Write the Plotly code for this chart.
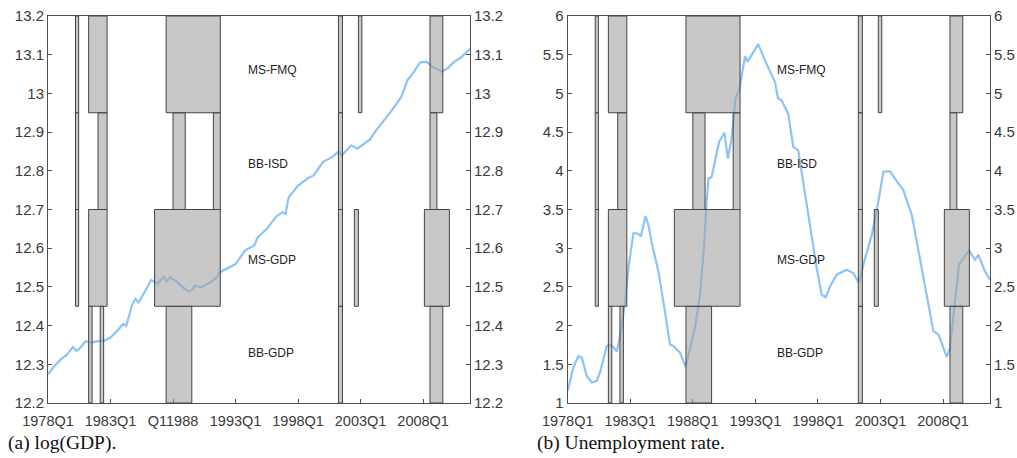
import plotly.graph_objects as go

# ---------------- data ----------------
tick_q = [0, 20, 40, 60, 80, 100, 120]
tick_labels_a = ["1978Q1", "1983Q1", "Q11988", "1993Q1", "1998Q1", "2003Q1", "2008Q1"]
tick_labels_b = ["1978Q1", "1983Q1", "1988Q1", "1993Q1", "1998Q1", "2003Q1", "2008Q1"]
q_range = [0, 135]  # quarters since 1978Q1

gdp_ticks = [12.2, 12.3, 12.4, 12.5, 12.6, 12.7, 12.8, 12.9, 13.0, 13.1, 13.2]
unemp_ticks = [1, 1.5, 2, 2.5, 3, 3.5, 4, 4.5, 5, 5.5, 6]

# log(GDP), x = quarters since 1978Q1
gdp_q = [0, 2, 4, 6, 8, 9, 10, 12, 14, 16, 18, 20, 22, 24, 25, 27, 28, 29, 31, 33,
         35, 37, 38, 39, 41, 43, 45, 46, 47, 49, 52, 54, 55, 57, 60, 63, 66, 67, 70, 73,
         75, 76, 77, 80, 83, 85, 88, 91, 93, 94, 97, 99, 103, 105, 107, 110, 113, 115,
         117, 119, 121, 123, 126, 128, 130, 132, 135]
gdp_val = [12.274, 12.295, 12.312, 12.325, 12.345, 12.335, 12.340, 12.359, 12.356, 12.360,
           12.361, 12.369, 12.385, 12.404, 12.399, 12.455, 12.469, 12.460, 12.488, 12.518,
           12.508, 12.526, 12.514, 12.525, 12.515, 12.500, 12.488, 12.492, 12.503, 12.499,
           12.512, 12.525, 12.538, 12.546, 12.559, 12.594, 12.607, 12.627, 12.650, 12.682,
           12.693, 12.689, 12.732, 12.762, 12.780, 12.788, 12.823, 12.836, 12.850, 12.840,
           12.866, 12.857, 12.881, 12.905, 12.926, 12.956, 12.991, 13.034, 13.055, 13.080,
           13.082, 13.069, 13.056, 13.066, 13.082, 13.092, 13.115]

# Unemployment rate
unemp_q = [0, 1.8, 3.4, 4.5, 6.1, 7.7, 9.3, 10.3, 12.5, 13.5, 14.6, 15.7, 16.7, 18.3,
           19.4, 21, 22.1, 23.4, 24.9, 25.8, 27, 29, 30.9, 32.7, 33.8, 35.9, 37.7, 39.1,
           40.9, 42.3, 43.7, 44.4, 45, 46, 48.4, 50.1, 51.2, 52.4, 53.7, 54.8, 56.7, 57.5,
           60.9, 63.1, 65, 66.3, 67.2, 68.4, 70.5, 72.1, 73.7, 75.9, 78, 79.6, 81.2, 82.5,
           83.9, 86, 89.2, 91.3, 93.1, 94.8, 97.2, 99.3, 100.9, 103, 104.6, 107.3, 110,
           112.1, 114.8, 116.9, 118.5, 121.2, 122.2, 123.8, 125.1, 127.6, 128.4, 130.2,
           131.3, 133.4, 135]
unemp_val = [1.157, 1.457, 1.607, 1.586, 1.35, 1.264, 1.286, 1.393, 1.736, 1.749, 1.723,
             1.663, 1.864, 2.272, 2.743, 3.193, 3.193, 3.159, 3.416, 3.30, 3.043, 2.70,
             2.229, 1.757, 1.736, 1.65, 1.466, 1.714, 2.015, 2.40, 3.086, 3.60, 3.90, 3.92,
             4.372, 4.492, 4.158, 4.415, 4.951, 5.037, 5.479, 5.41, 5.637, 5.423, 5.25,
             5.144, 4.94, 4.908, 4.737, 4.31, 4.265, 3.686, 3.172, 2.743, 2.40, 2.366,
             2.508, 2.658, 2.722, 2.679, 2.55, 2.829, 3.172, 3.60, 3.986, 3.994, 3.90,
             3.75, 3.429, 2.958, 2.40, 1.929, 1.886, 1.594, 1.714, 2.314, 2.786, 2.936,
             2.966, 2.85, 2.915, 2.70, 2.593]

# Regime rows (bottom to top) and their episodes (start, end in quarters since 1978Q1)
regime_names = ["BB-GDP", "MS-GDP", "BB-ISD", "MS-FMQ"]
bb_gdp_start = [13.0, 16.7, 37.8, 92.9, 122.2]
bb_gdp_end = [14.1, 17.8, 46.0, 94.2, 126.3]
ms_gdp_start = [8.8, 13.0, 34.1, 92.9, 98.0, 120.4]
ms_gdp_end = [9.8, 18.9, 55.1, 94.2, 99.3, 128.4]
bb_isd_start = [8.8, 16.0, 40.0, 52.9, 92.9, 122.2]
bb_isd_end = [9.8, 18.9, 43.9, 55.1, 94.2, 124.4]
ms_fmq_start = [8.8, 13.0, 37.8, 92.9, 99.3, 122.2]
ms_fmq_end = [9.8, 18.9, 55.1, 94.2, 100.4, 126.3]
regime_starts = [bb_gdp_start, ms_gdp_start, bb_isd_start, ms_fmq_start]
regime_ends = [bb_gdp_end, ms_gdp_end, bb_isd_end, ms_fmq_end]

captions = ["(a) log(GDP).", "(b) Unemployment rate."]

# ---------------- style ----------------
LINE_BLUE = "rgb(140,195,248)"
AXIS_COL = "#505050"
TEXT_COL = "#3a3a3a"
EDGE_COL = "#444444"
XTICK_FONT = dict(family="Liberation Sans, Arial, sans-serif", size=14.5, color=TEXT_COL)
YTICK_FONT = dict(family="Liberation Sans, Arial, sans-serif", size=15, color=TEXT_COL)
LABEL_FONT = dict(family="Liberation Sans, Arial, sans-serif", size=12, color="#222222")
CAP_FONT = dict(family="Liberation Serif, Times New Roman, serif", size=19.5, color="#111111")

fig = go.Figure()

# lines (plus invisible copies so the mirrored right axes are drawn)
fig.add_trace(go.Scatter(x=gdp_q, y=gdp_val, mode="lines", xaxis="x", yaxis="y",
                         line=dict(color=LINE_BLUE, width=2.2), showlegend=False, hoverinfo="skip"))
fig.add_trace(go.Scatter(x=gdp_q, y=gdp_val, mode="lines", xaxis="x", yaxis="y2",
                         opacity=0, showlegend=False, hoverinfo="skip"))
fig.add_trace(go.Scatter(x=unemp_q, y=unemp_val, mode="lines", xaxis="x2", yaxis="y3",
                         line=dict(color=LINE_BLUE, width=2.2), showlegend=False, hoverinfo="skip"))
fig.add_trace(go.Scatter(x=unemp_q, y=unemp_val, mode="lines", xaxis="x2", yaxis="y4",
                         opacity=0, showlegend=False, hoverinfo="skip"))

shapes = []
for xr, yr in [("x", "y domain"), ("x2", "y3 domain")]:
    for row, (starts, ends) in enumerate(zip(regime_starts, regime_ends)):
        for s, e in zip(starts, ends):
            y0, y1 = row / 4, (row + 1) / 4
            shapes.append(dict(type="rect", xref=xr, yref=yr, x0=s, x1=e, y0=y0, y1=y1,
                               fillcolor="rgb(163,163,163)", opacity=0.6,
                               line=dict(width=0), layer="above"))
            shapes.append(dict(type="rect", xref=xr, yref=yr, x0=s, x1=e, y0=y0, y1=y1,
                               fillcolor="rgba(0,0,0,0)",
                               line=dict(color=EDGE_COL, width=1), layer="above"))

annotations = []
label_y = [0.13, 0.37, 0.617, 0.86]
for xr, yr, xpos in [("x", "y domain", 63.3), ("x2", "y3 domain", 66.3)]:
    for name, yy in zip(regime_names, label_y):
        annotations.append(dict(text=name, xref=xr, yref=yr, x=xpos, y=yy,
                                xanchor="left", yanchor="middle", showarrow=False,
                                font=LABEL_FONT))
annotations.append(dict(text=captions[0], xref="paper", yref="paper", x=-0.0445, y=-0.104,
                        xanchor="left", yanchor="middle", showarrow=False, font=CAP_FONT))
annotations.append(dict(text=captions[1], xref="paper", yref="paper", x=0.517, y=-0.104,
                        xanchor="left", yanchor="middle", showarrow=False, font=CAP_FONT))

xcommon = dict(range=q_range, showgrid=False, zeroline=False, showline=True,
               linecolor=AXIS_COL, linewidth=1, mirror=True, ticks="inside",
               ticklen=4, tickcolor=AXIS_COL, tickfont=XTICK_FONT, tickvals=tick_q,
               ticklabelstandoff=5, automargin=False)
ycommon = dict(showgrid=False, zeroline=False, showline=True, linecolor=AXIS_COL,
               linewidth=1, ticks="inside", ticklen=4, tickcolor=AXIS_COL,
               tickfont=YTICK_FONT, automargin=False)


def fmt(v):
    return f"{v:g}"


fig.update_layout(
    width=1017, height=458,
    margin=dict(l=48, r=27, t=16, b=55, autoexpand=False),
    paper_bgcolor="white", plot_bgcolor="white",
    showlegend=False,
    xaxis=dict(xcommon, domain=[0, 0.448], anchor="y", ticktext=tick_labels_a),
    xaxis2=dict(xcommon, domain=[0.5517, 1], anchor="y3", ticktext=tick_labels_b),
    yaxis=dict(ycommon, range=[gdp_ticks[0], gdp_ticks[-1]], anchor="x",
               tickvals=gdp_ticks, ticktext=[fmt(v) for v in gdp_ticks]),
    yaxis2=dict(ycommon, range=[gdp_ticks[0], gdp_ticks[-1]], anchor="x", overlaying="y",
                side="right", tickvals=gdp_ticks, ticktext=[fmt(v) for v in gdp_ticks]),
    yaxis3=dict(ycommon, range=[unemp_ticks[0], unemp_ticks[-1]], anchor="x2",
                tickvals=unemp_ticks, ticktext=[fmt(v) for v in unemp_ticks]),
    yaxis4=dict(ycommon, range=[unemp_ticks[0], unemp_ticks[-1]], anchor="x2",
                overlaying="y3", side="right", tickvals=unemp_ticks,
                ticktext=[fmt(v) for v in unemp_ticks]),
    shapes=shapes,
    annotations=annotations,
)

fig.write_html("out.html", config={"displayModeBar": False},
               post_script="document.body.style.margin='0';document.body.style.padding='0';")
